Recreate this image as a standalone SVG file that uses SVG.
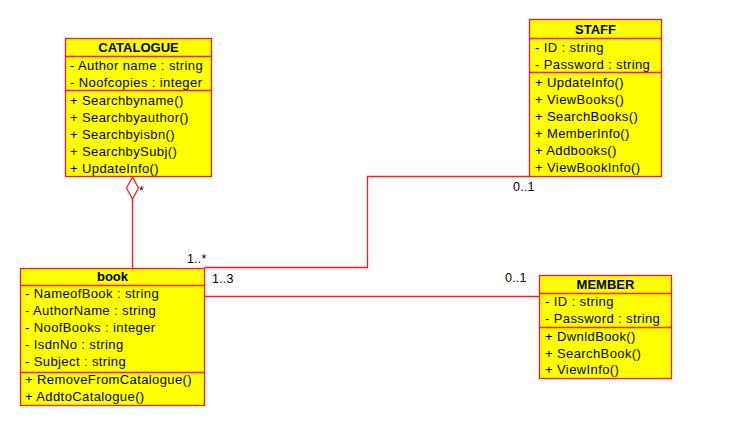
<svg xmlns="http://www.w3.org/2000/svg" width="741" height="423" viewBox="0 0 741 423">
<style>
.box{fill:#FFFF00;stroke:#FF1A1A;stroke-width:1.3}
.sep{stroke:#FF1A1A;stroke-width:1.3}
text{font-family:"Liberation Sans",Arial,sans-serif;font-size:13px;letter-spacing:0.4px;fill:#000}
.t{font-weight:bold;text-anchor:middle;letter-spacing:0}
.lbl{font-size:12.5px;letter-spacing:0.2px}
.conn{fill:none;stroke:#FF1A1A;stroke-width:1.3}
</style>
<rect width="741" height="423" fill="#fff"/>
<g id="catalogue">
<rect class="box" x="65.5" y="38.5" width="146" height="138"/>
<line class="sep" x1="65.5" y1="56.5" x2="211.5" y2="56.5"/>
<line class="sep" x1="65.5" y1="90.5" x2="211.5" y2="90.5"/>
<text class="t" x="138.5" y="52">CATALOGUE</text>
<text x="70" y="70">- Author name : string</text>
<text x="70" y="87">- Noofcopies : integer</text>
<text x="70" y="105">+ Searchbyname()</text>
<text x="70" y="122">+ Searchbyauthor()</text>
<text x="70" y="139">+ Searchbyisbn()</text>
<text x="70" y="156">+ SearchbySubj()</text>
<text x="70" y="173">+ UpdateInfo()</text>
</g>
<g id="staff">
<rect class="box" x="529.5" y="19.5" width="132" height="157"/>
<line class="sep" x1="529.5" y1="38.5" x2="661.5" y2="38.5"/>
<line class="sep" x1="529.5" y1="72.5" x2="661.5" y2="72.5"/>
<text class="t" x="595.5" y="34">STAFF</text>
<text x="535" y="52">- ID : string</text>
<text x="535" y="69">- Password : string</text>
<text x="535" y="87">+ UpdateInfo()</text>
<text x="535" y="104">+ ViewBooks()</text>
<text x="535" y="121">+ SearchBooks()</text>
<text x="535" y="138">+ MemberInfo()</text>
<text x="535" y="155">+ Addbooks()</text>
<text x="535" y="172">+ ViewBookInfo()</text>
</g>
<g id="book">
<rect class="box" x="20.5" y="268.5" width="184" height="137"/>
<line class="sep" x1="20.5" y1="285.5" x2="204.5" y2="285.5"/>
<line class="sep" x1="20.5" y1="372.5" x2="204.5" y2="372.5"/>
<text class="t" x="112.5" y="281">book</text>
<text x="25" y="298">- NameofBook : string</text>
<text x="25" y="315">- AuthorName : string</text>
<text x="25" y="332">- NoofBooks  : integer</text>
<text x="25" y="349">- IsdnNo : string</text>
<text x="25" y="366">- Subject : string</text>
<text x="25" y="384">+ RemoveFromCatalogue()</text>
<text x="25" y="401">+ AddtoCatalogue()</text>
</g>
<g id="member">
<rect class="box" x="539.5" y="275.5" width="132" height="103"/>
<line class="sep" x1="539.5" y1="293.5" x2="671.5" y2="293.5"/>
<line class="sep" x1="539.5" y1="327.5" x2="671.5" y2="327.5"/>
<text class="t" x="605.5" y="289">MEMBER</text>
<text x="545" y="306">- ID : string</text>
<text x="545" y="323">- Password : string</text>
<text x="545" y="341">+ DwnldBook()</text>
<text x="545" y="358">+ SearchBook()</text>
<text x="545" y="374">+ ViewInfo()</text>
</g>
<g id="connectors">
<polygon class="conn" points="132.5,177 138.5,188 132.5,199 126.5,188" fill="#fff" style="fill:#fff"/>
<line class="conn" x1="132.5" y1="199" x2="132.5" y2="268"/>
<polyline class="conn" points="204.5,267.5 367.5,267.5 367.5,176.5 529.5,176.5"/>
<line class="conn" x1="204.5" y1="296.5" x2="539.5" y2="296.5"/>
<text class="lbl" x="139" y="195">*</text>
<text class="lbl" x="187" y="263">1..*</text>
<text class="lbl" x="513" y="191">0..1</text>
<text class="lbl" x="212" y="283">1..3</text>
<text class="lbl" x="505" y="282">0..1</text>
</g>
</svg>
